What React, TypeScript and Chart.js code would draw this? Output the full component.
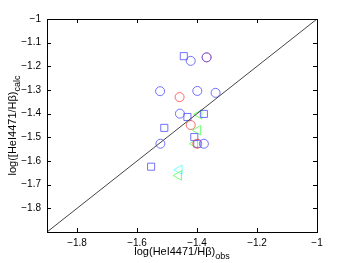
import React, { useEffect, useRef } from "react";
import { Chart, registerables } from "chart.js";

Chart.register(...registerables);

const xTicks = [-1.8, -1.6, -1.4, -1.2, -1];
const yTicks = [-1.8, -1.7, -1.6, -1.5, -1.4, -1.3, -1.2, -1.1, -1];

const blueCirclesX = [-1.421, -1.368, -1.523, -1.399, -1.338, -1.457, -1.522, -1.377];
const blueCirclesY = [-1.177, -1.162, -1.305, -1.304, -1.312, -1.4, -1.527, -1.527];
const redCirclesX = [-1.368, -1.458, -1.421, -1.399];
const redCirclesY = [-1.162, -1.33, -1.448, -1.527];
const blueSquaresX = [-1.444, -1.432, -1.377, -1.509, -1.409, -1.399, -1.553];
const blueSquaresY = [-1.157, -1.414, -1.401, -1.46, -1.499, -1.527, -1.624];
const greenTrianglesX = [-1.393, -1.397, -1.407, -1.461];
const greenTrianglesY = [-1.403, -1.47, -1.527, -1.661];
const cyanTrianglesX = [-1.459];
const cyanTrianglesY = [-1.637];
const diagonalX = [-1.9, -1];
const diagonalY = [-1.9, -1];

const zip = (xs: number[], ys: number[]) => xs.map((x, i) => ({ x, y: ys[i] }));
const fmt = (v: number) => String(v).replace("-", "\u2212");

const FONT = "'Liberation Sans', Arial, sans-serif";

const framePlugin = {
  id: "frame",
  afterDraw(chart: any) {
    const { ctx, chartArea: a, scales } = chart;
    const xs = scales.x;
    const ys = scales.y;
    ctx.save();
    ctx.strokeStyle = "#000";
    ctx.lineWidth = 1;
    ctx.strokeRect(Math.round(a.left) + 0.5, Math.round(a.top) + 0.5, Math.round(a.right - a.left), Math.round(a.bottom - a.top));
    const tl = 4;
    ctx.beginPath();
    xTicks.forEach((v) => {
      const p = Math.round(xs.getPixelForValue(v)) + 0.5;
      ctx.moveTo(p, a.bottom);
      ctx.lineTo(p, a.bottom - tl);
      ctx.moveTo(p, a.top);
      ctx.lineTo(p, a.top + tl);
    });
    yTicks.forEach((v) => {
      const p = Math.round(ys.getPixelForValue(v)) + 0.5;
      ctx.moveTo(a.left, p);
      ctx.lineTo(a.left + tl, p);
      ctx.moveTo(a.right, p);
      ctx.lineTo(a.right - tl, p);
    });
    ctx.stroke();

    // x title with subscript
    ctx.fillStyle = "#000";
    ctx.textBaseline = "alphabetic";
    const main = "log(HeI4471/H\u03b2)";
    const sub = "obs";
    ctx.font = `11px ${FONT}`;
    const mw = ctx.measureText(main).width;
    ctx.font = `9px ${FONT}`;
    const sw = ctx.measureText(sub).width;
    const cx = (a.left + a.right) / 2;
    let sx = cx - (mw + sw) / 2;
    ctx.font = `11px ${FONT}`;
    ctx.fillText(main, sx, 255);
    ctx.font = `9px ${FONT}`;
    ctx.fillText(sub, sx + mw, 259);

    // y title rotated
    const ymain = "log([HeI4471/H\u03b2)";
    const ysub = "calc";
    ctx.font = `11px ${FONT}`;
    const ymw = ctx.measureText(ymain).width;
    ctx.font = `9px ${FONT}`;
    const ysw = ctx.measureText(ysub).width;
    ctx.translate(16, (a.top + a.bottom) / 2);
    ctx.rotate(-Math.PI / 2);
    const ysx = -(ymw + ysw) / 2;
    ctx.font = `11px ${FONT}`;
    ctx.fillText(ymain, ysx, 0);
    ctx.font = `9px ${FONT}`;
    ctx.fillText(ysub, ysx + ymw, 4);
    ctx.restore();
  },
};

export default function App() {
  const ref = useRef<HTMLCanvasElement>(null);
  useEffect(() => {
    document.body.style.margin = "0";
    const blue = "rgba(90,90,255,0.85)";
    const red = "rgba(255,80,80,0.85)";
    const green = "rgba(100,255,100,0.9)";
    const cyan = "rgba(100,255,255,0.9)";
    const common = { showLine: false, backgroundColor: "rgba(0,0,0,0)", borderWidth: 1 };
    const chart = new Chart(ref.current!, {
      type: "scatter",
      data: {
        datasets: [
          {
            type: "line",
            data: zip(diagonalX, diagonalY),
            borderColor: "#444",
            borderWidth: 1,
            pointRadius: 0,
            showLine: true,
            fill: false,
          } as any,
          { ...common, data: zip(blueCirclesX, blueCirclesY), borderColor: blue, pointStyle: "circle", pointRadius: 4.5 },
          { ...common, data: zip(redCirclesX, redCirclesY), borderColor: red, pointStyle: "circle", pointRadius: 4.5 },
          { ...common, data: zip(blueSquaresX, blueSquaresY), borderColor: blue, pointStyle: "rect", pointRadius: 5 },
          { ...common, data: zip(greenTrianglesX, greenTrianglesY), borderColor: green, pointStyle: "triangle", pointRadius: 5.5, rotation: -90 },
          { ...common, data: zip(cyanTrianglesX, cyanTrianglesY), borderColor: cyan, pointStyle: "triangle", pointRadius: 5.5, rotation: -90 },
        ],
      },
      options: {
        animation: false,
        responsive: false,
        maintainAspectRatio: false,
        events: [],
        layout: { padding: { top: 19, right: 32, left: 0, bottom: 0 } },
        plugins: { legend: { display: false }, tooltip: { enabled: false } },
        scales: {
          x: {
            type: "linear",
            min: -1.9,
            max: -1,
            afterBuildTicks: (s: any) => {
              s.ticks = xTicks.map((v) => ({ value: v }));
            },
            afterFit: (s: any) => {
              s.height = 31;
            },
            grid: { display: false, drawTicks: false },
            border: { display: false },
            ticks: {
              color: "#000",
              padding: 5,
              font: { size: 10, family: FONT },
              callback: (v: any) => fmt(Number(v)),
              maxRotation: 0,
              autoSkip: false,
            },
          },
          y: {
            type: "linear",
            min: -1.9,
            max: -1,
            afterBuildTicks: (s: any) => {
              s.ticks = yTicks.map((v) => ({ value: v }));
            },
            afterFit: (s: any) => {
              s.width = 47;
            },
            grid: { display: false, drawTicks: false },
            border: { display: false },
            ticks: {
              color: "#000",
              padding: 6,
              font: { size: 10, family: FONT },
              callback: (v: any) => fmt(Number(v)),
              autoSkip: false,
            },
          },
        },
      },
      plugins: [framePlugin],
    });
    return () => chart.destroy();
  }, []);
  return (
    <div style={{ width: 349, height: 263, background: "#fff" }}>
      <canvas ref={ref} width={349} height={263} style={{ display: "block" }} />
    </div>
  );
}
